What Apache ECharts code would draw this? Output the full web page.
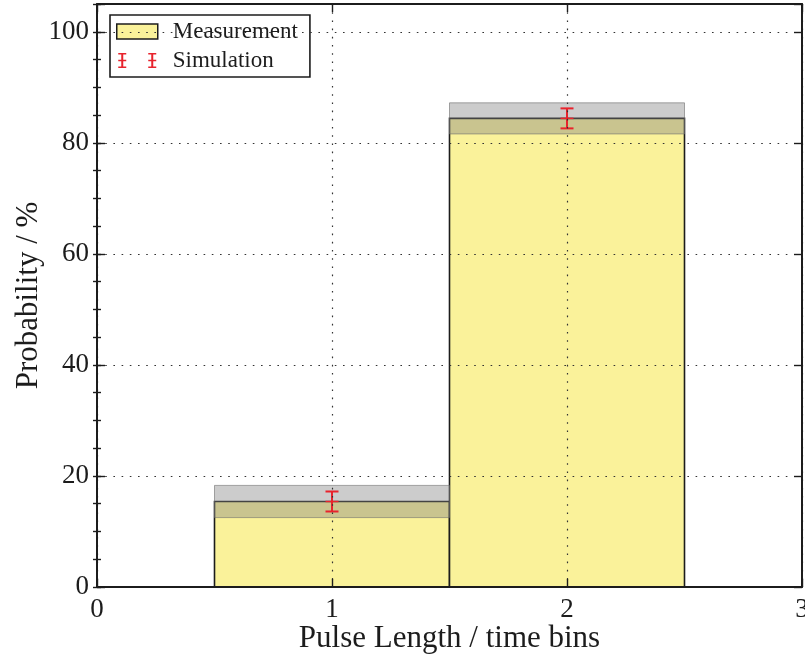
<!DOCTYPE html>
<html>
<head>
<meta charset="utf-8">
<script src="https://cdn.jsdelivr.net/npm/echarts@6/dist/echarts.min.js"></script>
<style>
html,body{margin:0;padding:0;background:#fff;overflow:hidden;}
#chart{width:805px;height:655px;}
</style>
</head>
<body>
<div id="chart"></div>
<script>
// ---- data ----
var binCenters = [1, 2];
var binWidth = 1;
var measValues = [15.4, 84.4];
var measErr = [2.9, 2.8];
var simValues = [15.4, 84.4];
var simErr = [1.8, 1.8];
var xTicks = [0, 1, 2, 3];
var yTickLabels = [0, 20, 40, 60, 80, 100];

var FONT = 'Liberation Serif';
var INK = '#1c1c1c';

var chart = echarts.init(document.getElementById('chart'), null, { width: 805, height: 655 });

var measData = binCenters.map(function (c, i) { return [c, measValues[i], measErr[i]]; });
var simData = binCenters.map(function (c, i) { return [c, simValues[i], simErr[i]]; });

function barItem(params, api) {
  var x = api.value(0), v = api.value(1);
  var p0 = api.coord([x - binWidth / 2, 0]);
  var p1 = api.coord([x + binWidth / 2, v]);
  return {
    type: 'rect',
    shape: { x: p0[0], y: p1[1], width: p1[0] - p0[0], height: p0[1] - p1[1] },
    style: { fill: '#faf29a', stroke: INK, lineWidth: 1.6 }
  };
}
function bandItem(params, api) {
  var x = api.value(0), v = api.value(1), e = api.value(2);
  var p0 = api.coord([x - binWidth / 2, v - e]);
  var p1 = api.coord([x + binWidth / 2, v + e]);
  return {
    type: 'rect',
    shape: { x: p0[0], y: p1[1], width: p1[0] - p0[0], height: p0[1] - p1[1] },
    style: { fill: 'rgba(128,128,128,0.40)', stroke: 'rgba(110,110,110,0.6)', lineWidth: 1 }
  };
}
function errItem(params, api) {
  var x = api.value(0), v = api.value(1), e = api.value(2);
  var top = api.coord([x, v + e]);
  var bot = api.coord([x, v - e]);
  var mid = api.coord([x, v]);
  var hw = 6.5;
  var st = { stroke: '#e8232d', lineWidth: 2 };
  return {
    type: 'group',
    children: [
      { type: 'line', shape: { x1: top[0], y1: top[1], x2: bot[0], y2: bot[1] }, style: st },
      { type: 'line', shape: { x1: top[0] - hw, y1: top[1], x2: top[0] + hw, y2: top[1] }, style: st },
      { type: 'line', shape: { x1: bot[0] - hw, y1: bot[1], x2: bot[0] + hw, y2: bot[1] }, style: st },
      { type: 'line', shape: { x1: mid[0] - hw, y1: mid[1], x2: mid[0] + hw, y2: mid[1] }, style: { stroke: '#e8232d', lineWidth: 1.5 } }
    ]
  };
}

// legend icon for error bars (two error bars side by side)
function ebPath(cx) {
  return 'M' + (cx - 1) + ' 0 L' + (cx + 1) + ' 0 L' + (cx + 1) + ' 15 L' + (cx - 1) + ' 15 Z ' +
    'M' + (cx - 4) + ' 0 L' + (cx + 4) + ' 0 L' + (cx + 4) + ' 1.6 L' + (cx - 4) + ' 1.6 Z ' +
    'M' + (cx - 4) + ' 13.4 L' + (cx + 4) + ' 13.4 L' + (cx + 4) + ' 15 L' + (cx - 4) + ' 15 Z ' +
    'M' + (cx - 4) + ' 6.8 L' + (cx + 4) + ' 6.8 L' + (cx + 4) + ' 8.2 L' + (cx - 4) + ' 8.2 Z';
}
var ebIcon = 'path://' + ebPath(4) + ' ' + ebPath(34);

var dotted = { show: true, lineStyle: { color: '#333', width: 1.2, type: [1.6, 6.6] } };
var tickStyle = { color: INK, width: 1.4 };

function yTickFmt(v) { return yTickLabels.indexOf(v) >= 0 ? String(v) : ''; }

chart.setOption({
  animation: false,
  backgroundColor: '#fff',
  grid: { left: 97, right: 3, top: 4, bottom: 68, show: false, containLabel: false, outerBoundsMode: 'none' },
  legend: {
    left: 110, top: 15,
    orient: 'vertical',
    padding: [2, 12, 2, 6],
    itemGap: 0,
    itemWidth: 41, itemHeight: 15,
    borderColor: INK, borderWidth: 1.6,
    backgroundColor: '#fff',
    textStyle: { fontFamily: FONT, fontSize: 23, color: INK, padding: [0, 0, 0, 10], lineHeight: 29 },
    data: [
      { name: 'Measurement', icon: 'rect', itemStyle: { color: '#faf29a', borderColor: INK, borderWidth: 1.5 } },
      { name: 'Simulation', icon: ebIcon, itemStyle: { color: '#e8232d', borderWidth: 0 } }
    ]
  },
  xAxis: [
    {
      type: 'value', position: 'bottom', min: 0, max: 3, interval: 1, z: 5,
      axisLine: { show: true, onZero: false, lineStyle: { color: INK, width: 2 } },
      axisTick: { show: true, inside: true, length: 8, lineStyle: tickStyle },
      axisLabel: { show: true, margin: 9, fontFamily: FONT, fontSize: 27, color: INK,
        formatter: function (v) { return xTicks.indexOf(v) >= 0 ? String(v) : ''; } },
      splitLine: dotted,
      name: 'Pulse Length / time bins', nameLocation: 'middle', nameGap: 36, nameMoveOverlap: false,
      nameTextStyle: { fontFamily: FONT, fontSize: 31, color: INK }
    },
    {
      type: 'value', position: 'top', min: 0, max: 3, interval: 1, z: 5,
      axisLine: { show: true, onZero: false, lineStyle: { color: INK, width: 2 } },
      axisTick: { show: true, inside: true, length: 8, lineStyle: tickStyle },
      axisLabel: { show: false }, splitLine: { show: false }
    }
  ],
  yAxis: [
    {
      type: 'value', position: 'left', min: 0, max: 105, interval: 20, z: 5,
      axisLine: { show: true, onZero: false, lineStyle: { color: INK, width: 2 } },
      axisTick: { show: true, inside: true, length: 8, lineStyle: tickStyle },
      axisLabel: { show: true, margin: 8, fontFamily: FONT, fontSize: 27, color: INK, formatter: yTickFmt },
      splitLine: dotted,
      name: 'Probability / %', nameLocation: 'middle', nameGap: 53, nameMoveOverlap: false,
      nameTextStyle: { fontFamily: FONT, fontSize: 31, color: INK }
    },
    {
      type: 'value', position: 'left', min: 0, max: 105, interval: 5, z: 5,
      axisLine: { show: false },
      axisTick: { show: true, inside: true, length: 4, lineStyle: tickStyle },
      axisLabel: { show: false }, splitLine: { show: false }
    },
    {
      type: 'value', position: 'right', min: 0, max: 105, interval: 20, z: 5,
      axisLine: { show: true, onZero: false, lineStyle: { color: INK, width: 2 } },
      axisTick: { show: true, inside: true, length: 8, lineStyle: tickStyle },
      axisLabel: { show: false }, splitLine: { show: false }
    },
    {
      type: 'value', position: 'right', min: 0, max: 105, interval: 5, z: 5,
      axisLine: { show: false },
      axisTick: { show: true, inside: true, length: 4, lineStyle: tickStyle },
      axisLabel: { show: false }, splitLine: { show: false }
    }
  ],
  series: [
    { name: 'Measurement', type: 'custom', renderItem: barItem, data: measData, z: 1,
      itemStyle: { color: '#faf29a' }, encode: { x: 0, y: 1 } },
    { name: 'Uncertainty', type: 'custom', renderItem: bandItem, data: measData, z: 2,
      encode: { x: 0, y: [1, 2] } },
    { name: 'Simulation', type: 'custom', renderItem: errItem, data: simData, z: 3,
      itemStyle: { color: '#e8232d' }, encode: { x: 0, y: 1 } }
  ]
});
</script>
</body>
</html>
